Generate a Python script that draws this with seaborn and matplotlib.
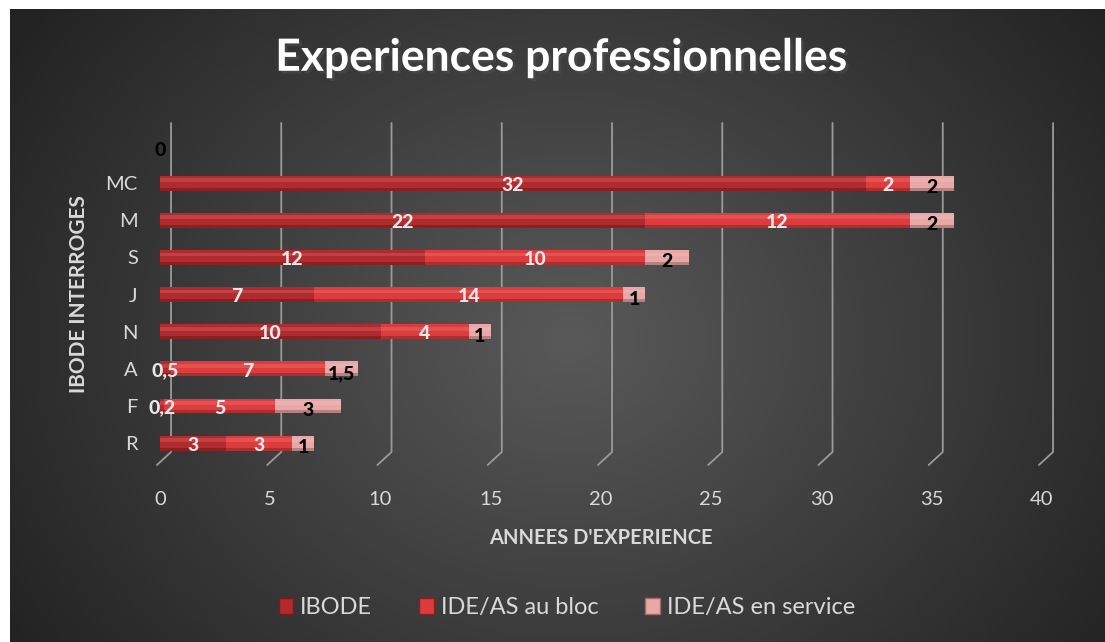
import numpy as np
import matplotlib
matplotlib.use("Agg")
from matplotlib import pyplot as plt
from matplotlib.patches import Patch
import matplotlib.patheffects as pe
import seaborn as sns

# donnees (du haut vers le bas)
categories = ["", "MC", "M", "S", "J", "N", "A", "F", "R"]
ibode = [np.nan, 32, 22, 12, 7, 10, 0.5, 0.2, 3]
bloc = [np.nan, 2, 12, 10, 14, 4, 7, 5, 3]
service = [0, 2, 2, 2, 1, 1, 1.5, 3, 1]
series_names = ["IBODE", "IDE/AS au bloc", "IDE/AS en service"]
x_ticks = [0, 5, 10, 15, 20, 25, 30, 35, 40]

COL_IBODE = "#b32a2c"
COL_BLOC = "#de3b3d"
COL_SERV = "#e9a7a7"
TXT = "#d9d9d9"

sns.set_theme(style="white")
plt.rcParams['font.family'] = ['Lato', 'DejaVu Sans']

fig = plt.figure(figsize=(11.05, 6.42), dpi=100)
fig.patch.set_facecolor("white")

# fond gris en degrade radial
bg = fig.add_axes([10 / 1105, 0, 1095 / 1105, 633 / 642])
bg.set_axis_off()
yy, xx = np.mgrid[0:633, 0:1095]
r = np.sqrt(((xx - 560) / 620) ** 2 + ((yy - 330) / 520) ** 2)
shade = np.clip(0.35 - 0.2 * r, 0.14, 0.35)
bg.imshow(np.dstack([shade] * 3), aspect="auto", extent=[0, 1, 0, 1])

ax = fig.add_axes([160 / 1105, (642 - 465) / 642, 882 / 1105, 342 / 642])
ax.patch.set_alpha(0)

a = np.nan_to_num(np.array(ibode, dtype=float))
b = np.nan_to_num(np.array(bloc, dtype=float))
c = np.array(service, dtype=float)

# barres empilees : on dessine les cumuls de l'arriere vers l'avant
kw = dict(orient="h", width=0.4, saturation=1, linewidth=0, edgecolor="none", ax=ax)
sns.barplot(x=a + b + c, y=categories, color=COL_SERV, **kw)
sns.barplot(x=a + b, y=categories, color=COL_BLOC, **kw)
sns.barplot(x=a, y=categories, color=COL_IBODE, **kw)
# effet cylindre : reflet clair en haut, ombre en bas
pos = np.arange(len(categories))
ax.barh(pos - 0.08, a + b + c, height=0.1, color="white", alpha=0.12, lw=0)
ax.barh(pos + 0.16, a + b + c, height=0.08, color="black", alpha=0.22, lw=0)

ax.set_xlim(0, 40)
ax.set_ylim(8.59, -0.62)

# grille verticale avec un pied en perspective
for t in x_ticks:
    ax.plot([t + 0.5, t + 0.5, t - 0.14], [-0.62, 8.24, 8.59], color="#9a9a9a",
            lw=1.3, clip_on=False, zorder=0)

# etiquettes de donnees
for i in range(len(categories)):
    if not np.isnan(ibode[i]):
        ax.text(a[i] / 2, i + 0.06, f"{ibode[i]:g}".replace(".", ","), ha="center",
                va="center", color="#e8e8e8", fontsize=14, fontweight="black")
    if not np.isnan(bloc[i]):
        ax.text(a[i] + b[i] / 2, i + 0.06, f"{bloc[i]:g}".replace(".", ","), ha="center",
                va="center", color="#e8e8e8", fontsize=14, fontweight="black")
    ax.text(a[i] + b[i] + c[i] / 2, i + 0.12, f"{c[i]:g}".replace(".", ","), ha="center",
            va="center", color="black", fontsize=14, fontweight="black")

for s in ax.spines.values():
    s.set_visible(False)
ax.set_xticks(x_ticks)
ax.tick_params(axis="x", length=0, pad=19, labelsize=14.5, labelcolor=TXT)
ax.tick_params(axis="y", length=0, pad=16, labelsize=14.5, labelcolor=TXT)
ax.set_xlabel("ANNEES D'EXPERIENCE", color=TXT, fontsize=14.5, fontweight="bold",
              labelpad=14)
ax.set_ylabel("IBODE INTERROGES", color=TXT, fontsize=15, fontweight="bold",
              labelpad=12)

fig.text(0.508, 0.91, "Experiences professionnelles", ha="center", va="center",
         color="white", fontsize=32, fontweight="bold",
         path_effects=[pe.withSimplePatchShadow(offset=(2, -2), alpha=0.6)])

handles = [Patch(facecolor=COL_IBODE, edgecolor="#7a1a1a"),
           Patch(facecolor=COL_BLOC, edgecolor="#8a2020"),
           Patch(facecolor=COL_SERV, edgecolor="#a06a6a")]
leg = fig.legend(handles, series_names, loc="center", bbox_to_anchor=(0.513, 0.053),
                 ncol=3, frameon=False, fontsize=17, handlelength=0.6,
                 handleheight=0.7, handletextpad=0.3, columnspacing=2.0)
for t in leg.get_texts():
    t.set_color(TXT)

plt.savefig("out.png", dpi=100)
